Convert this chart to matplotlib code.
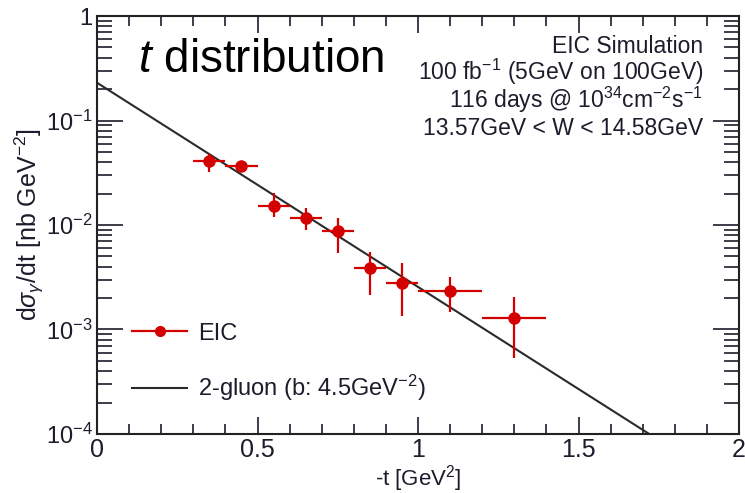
import numpy as np
import matplotlib
matplotlib.use("Agg")
import matplotlib.pyplot as plt
from matplotlib.lines import Line2D
from matplotlib.ticker import FuncFormatter, LogLocator, MultipleLocator, NullFormatter

plt.rcParams['font.family'] = ['Liberation Sans', 'DejaVu Sans']
plt.rcParams['mathtext.fontset'] = 'custom'
plt.rcParams['mathtext.rm'] = 'Liberation Sans'
plt.rcParams['mathtext.it'] = 'Liberation Sans:italic'
plt.rcParams['mathtext.sf'] = 'Liberation Sans'

# EIC pseudo-data: -t bin centres, half widths, cross section and asymmetric errors
t_vals = [0.35, 0.45, 0.55, 0.65, 0.75, 0.85, 0.95, 1.10, 1.30]
t_half = [0.05, 0.05, 0.05, 0.05, 0.05, 0.05, 0.05, 0.10, 0.10]
dsdt = [0.041, 0.0367, 0.0152, 0.0117, 0.0088, 0.0039, 0.0028, 0.00234, 0.00129]
err_up = [0.048, 0.038, 0.0202, 0.0145, 0.0117, 0.0055, 0.0043, 0.0032, 0.00204]
err_dn = [0.032, 0.033, 0.0120, 0.0089, 0.0054, 0.00215, 0.00136, 0.00146, 0.00053]

# 2-gluon exchange model: A * exp(-b t)
model_A = 0.23
model_b = 4.5

red = '#d40000'
ink = '#1c1c2c'

fig = plt.figure(figsize=(7.45, 4.93), dpi=100)
ax = fig.add_axes([0.1302, 0.1197, 0.8618, 0.8478])

t_line = np.linspace(0, 2, 400)
ax.plot(t_line, model_A * np.exp(-model_b * t_line), color='#2a2a2a', lw=1.5, zorder=2)

yerr = [np.array(dsdt) - np.array(err_dn), np.array(err_up) - np.array(dsdt)]
ax.errorbar(t_vals, dsdt, xerr=t_half, yerr=yerr, fmt='o', color=red, ms=8,
            elinewidth=1.6, capsize=0, zorder=3)

ax.set_yscale('log')
ax.set_xlim(0, 2)
ax.set_ylim(1e-4, 1)

ax.xaxis.set_major_locator(MultipleLocator(0.5))
ax.xaxis.set_minor_locator(MultipleLocator(0.1))
ax.xaxis.set_major_formatter(FuncFormatter(lambda v, p: f"{v:g}"))
ax.yaxis.set_major_locator(LogLocator(base=10, numticks=10))
ax.yaxis.set_minor_locator(LogLocator(base=10, subs=np.arange(2, 10), numticks=10))
ax.yaxis.set_minor_formatter(NullFormatter())


def ylab(v, p):
    e = int(round(np.log10(v)))
    return "1" if e == 0 else rf"$10^{{{e}}}$"


ax.yaxis.set_major_formatter(FuncFormatter(ylab))

ax.tick_params(axis='both', which='both', direction='in', top=True, right=True,
               colors=ink, labelcolor=ink, width=1.2)
ax.tick_params(axis='x', which='major', length=12, labelsize=18, pad=3)
ax.tick_params(axis='x', which='minor', length=7)
ax.tick_params(axis='y', which='major', length=19, labelsize=17, pad=3)
ax.tick_params(axis='y', which='minor', length=11)
for s in ax.spines.values():
    s.set_linewidth(1.5)
    s.set_color('#222222')

ax.set_xlabel(r"-t [GeV$^{2}$]", fontsize=16, color=ink)
ax.xaxis.set_label_coords(0.5, -0.070)
ax.set_ylabel(r"d$\sigma_{\gamma}$/dt [nb GeV$^{-2}$]", fontsize=18, color=ink)
ax.yaxis.set_label_coords(-0.079, 0.5)

ax.text(0.064, 0.866, r"$\it{t}$ distribution", transform=ax.transAxes,
        fontsize=33, color='black', ha='left', va='baseline')

info = ["EIC Simulation",
        r"100 fb$^{-1}$ (5GeV on 100GeV)",
        r"116 days @ 10$^{34}$cm$^{-2}$s$^{-1}$",
        "13.57GeV < W < 14.58GeV"]
info_y = [0.9115, 0.847, 0.780, 0.715]
for line, yy in zip(info, info_y):
    ax.text(0.944, yy, line, transform=ax.transAxes, fontsize=16.5,
            color=ink, ha='right', va='baseline')

handles = [Line2D([], [], color=red, lw=1.6, marker='o', ms=7),
           Line2D([], [], color='#2a2a2a', lw=1.5)]
labels = ["EIC", r"2-gluon (b: 4.5GeV$^{-2}$)"]
ax.legend(handles, labels, loc='upper left', bbox_to_anchor=(0.04, 0.289),
          frameon=False, fontsize=17, handlelength=2.33, handletextpad=0.47,
          labelspacing=1.2, labelcolor=ink, borderaxespad=0)

# sliver of a neighbouring glyph on the left edge
fig.text(-0.014, 0.30, ")", fontsize=20, color='black', ha='left', va='center')

fig.savefig("out.png", dpi=100)
